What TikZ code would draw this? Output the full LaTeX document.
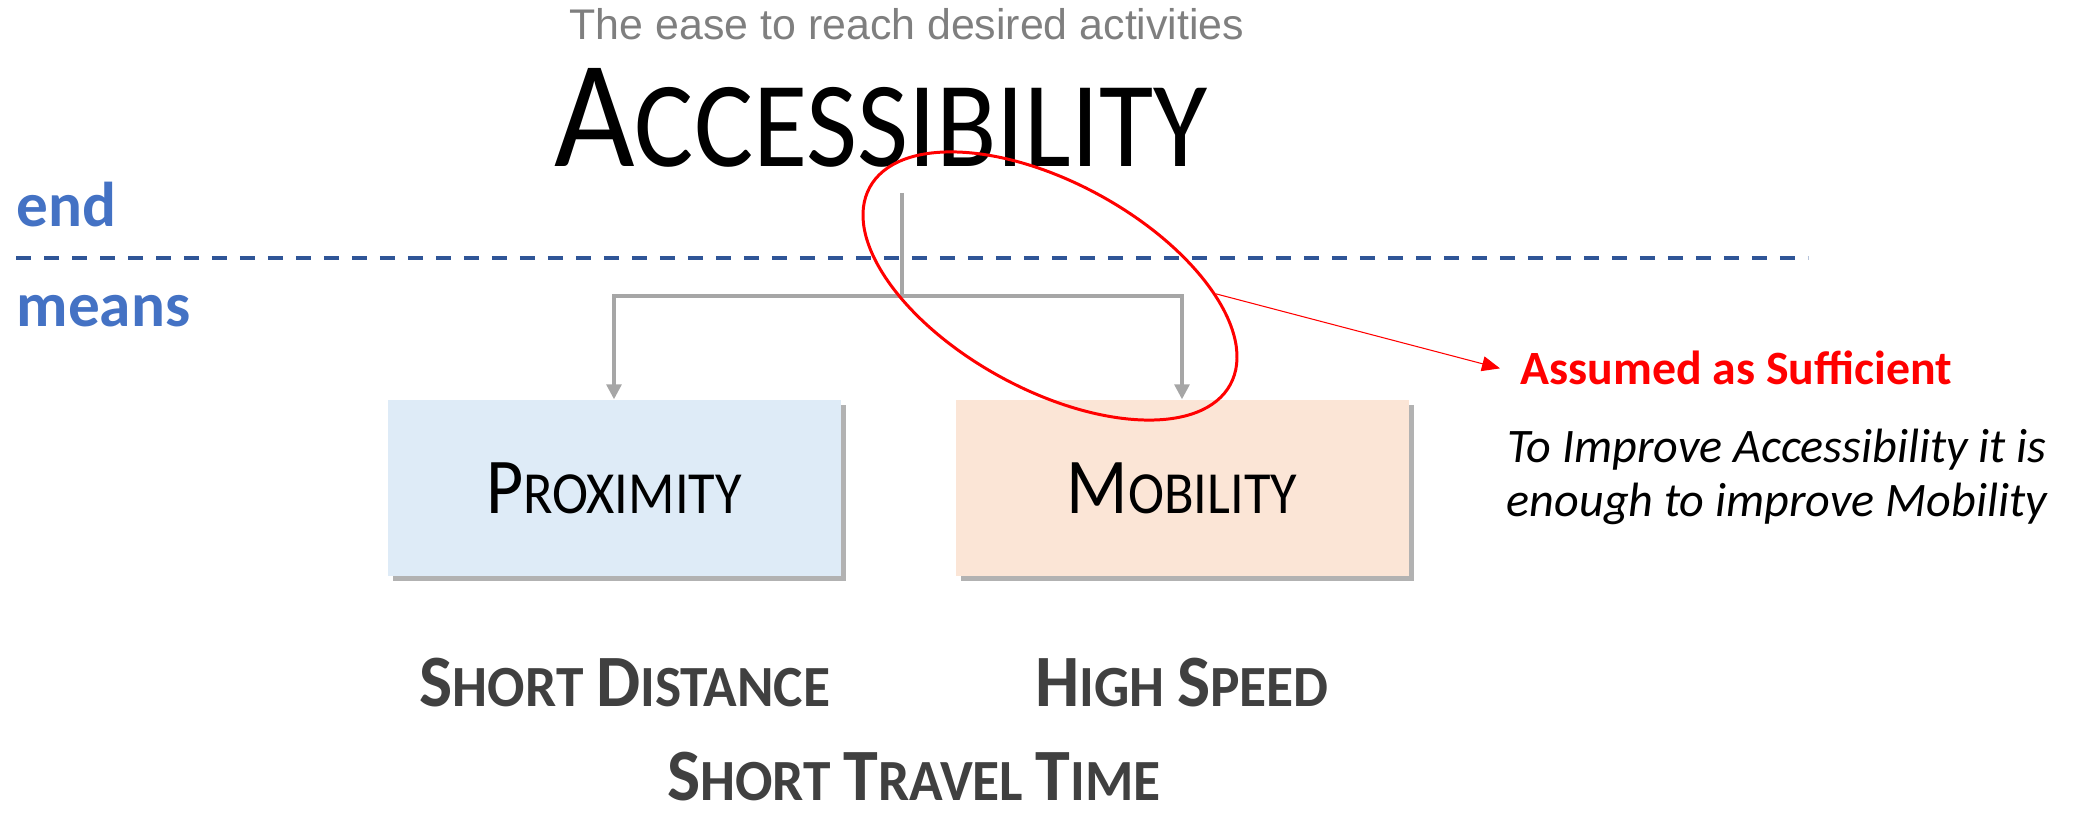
\documentclass[tikz,border=0pt]{standalone}
\usepackage{fontspec}
\usepackage{xcolor}
\usepackage{tikz}
\usetikzlibrary{arrows.meta,shapes.geometric,shadows}
\setmainfont{Carlito}
\newfontfamily\headfont[FakeStretch=0.91]{Carlito}
\newfontfamily\subfont[FakeStretch=0.95]{Carlito}
\newfontfamily\arialfont{Liberation Sans}

\definecolor{endblue}{HTML}{4472C4}
\definecolor{lineblue}{HTML}{2F5597}
\definecolor{connectgray}{HTML}{A6A6A6}
\definecolor{titlegray}{HTML}{7F7F7F}
\definecolor{labelgray}{HTML}{404040}
\definecolor{proxfill}{HTML}{DEEBF7}
\definecolor{mobfill}{HTML}{FBE5D6}

% first letter big, the rest as small capitals
\newcommand{\capsc}[4]{{\fontsize{#1}{#1}\selectfont #3}{\fontsize{#2}{#2}\selectfont #4}}

\tikzset{
  conceptbox/.style={minimum width=4.53cm, minimum height=1.76cm, inner sep=0pt,
    drop shadow={shadow xshift=0.05cm, shadow yshift=-0.05cm, fill=black, opacity=0.3}},
  connect/.style={draw=connectgray, line width=0.9pt, -{Triangle[length=1.5mm,width=1.5mm]}},
  sidetag/.style={font=\bfseries\fontsize{18}{18}\selectfont, text=endblue, inner sep=0pt, anchor=base west},
  speedtag/.style={font=\subfont\bfseries\fontsize{16.6}{16.6}\selectfont, text=labelgray, inner sep=0pt, anchor=base},
}

\begin{document}
\begin{tikzpicture}
\useasboundingbox (0,0) rectangle (20.77,8.14);

\node[anchor=base, inner sep=0pt, text=titlegray, font=\arialfont\fontsize{12.2}{12.2}\selectfont] (ease) at (9.07,7.74) {The ease to reach desired activities};
\node[anchor=base, inner sep=0pt, font=\headfont\fontsize{34.7}{34.7}\selectfont] (access) at (8.81,6.475) {\capsc{43.5}{34.7}{A}{CCESSIBILITY}};

\node[sidetag] (endtag) at (0.16,5.87) {end};
\node[sidetag] (meanstag) at (0.16,4.87) {means};
\draw[lineblue, line width=1.1pt, dash pattern=on 0.15cm off 0.13cm] (0.16,5.56) -- (18.08,5.56);

\node[conceptbox, fill=proxfill, font=\headfont] (prox) at (6.14,3.26) {\capsc{22.5}{17}{P}{ROXIMITY}};
\node[conceptbox, fill=mobfill, font=\headfont] (mob) at (11.82,3.26) {\capsc{22.5}{17}{M}{OBILITY}};

\coordinate (stem) at (9.02,6.21);
\coordinate (fork) at (9.02,5.18);
\draw[connect] (stem) -- (fork) -| (prox.north);
\draw[connect] (fork) -| (mob.north);

\node[draw=red, ellipse, line width=0.85pt, minimum width=4.11cm, minimum height=2.07cm, inner sep=0pt, rotate=-28.7] (ring) at (10.50,5.28) {};

\node[anchor=base west, inner sep=0pt, text=red, font=\bfseries\fontsize{13.6}{13.6}\selectfont] (suff) at (15.20,4.29) {Assumed as Sufficient};
\draw[red, line width=0.3pt, -{Triangle[length=1.8mm,width=1.5mm]}] (ring.26) -- ([xshift=-0.2cm]suff.west);

\node[anchor=base, inner sep=0pt, font=\itshape\fontsize{13.7}{13.7}\selectfont] (claima) at (17.77,3.51) {To Improve Accessibility it is};
\node[anchor=base, inner sep=0pt, font=\itshape\fontsize{13.7}{13.7}\selectfont] (claimb) at (17.77,2.97) {enough to improve Mobility};

\node[speedtag] (dist) at (6.25,1.07) {\capsc{21}{16.6}{S}{HORT} \capsc{21}{16.6}{D}{ISTANCE}};
\node[speedtag] (speed) at (11.82,1.07) {\capsc{21}{16.6}{H}{IGH} \capsc{21}{16.6}{S}{PEED}};
\node[speedtag] (travel) at (9.14,0.13) {\capsc{21}{16.6}{S}{HORT} \capsc{21}{16.6}{T}{RAVEL} \capsc{21}{16.6}{T}{IME}};
\end{tikzpicture}
\end{document}
